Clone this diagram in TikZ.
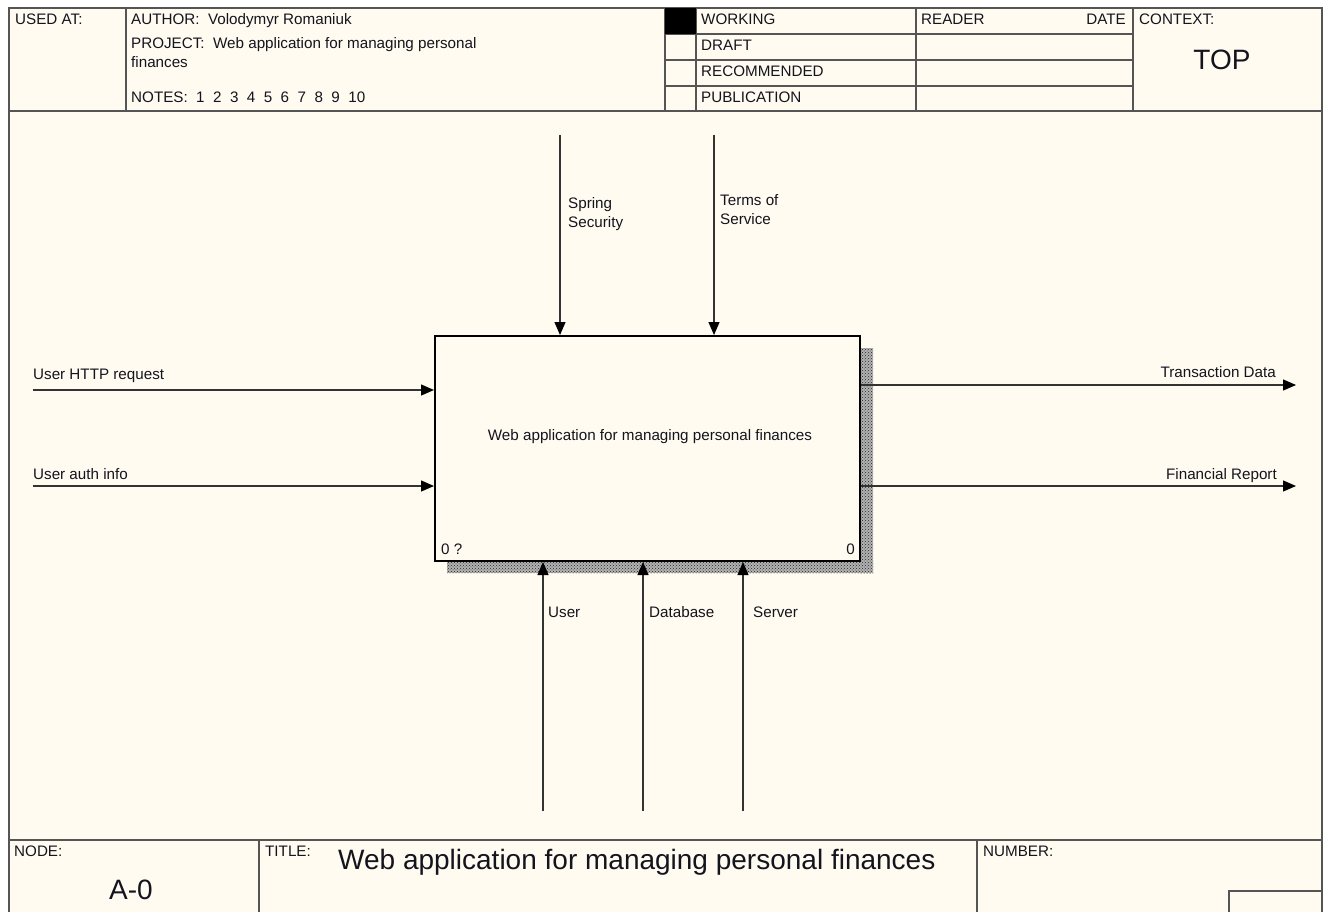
\documentclass[tikz,border=0pt]{standalone}
\usepackage{fontspec}
\setmainfont{Liberation Sans}
\usetikzlibrary{arrows.meta,patterns}
\definecolor{paper}{RGB}{255,251,240}
\definecolor{ink}{RGB}{20,20,30}
\definecolor{rule}{RGB}{85,85,85}
\begin{document}
\begin{tikzpicture}[x=1pt,y=-1pt,
  lbl/.style={inner sep=0pt,anchor=base west,text=ink,font=\fontsize{15.2}{19.5}\selectfont},
  big/.style={inner sep=0pt,anchor=base,text=ink,font=\fontsize{28}{32}\selectfont},
  frameline/.style={draw=rule,line width=1.4pt},
  flow/.style={draw=black!80,line width=1.3pt,-{Triangle[length=13pt,width=11pt,color=black]}},
  shadow/.style={fill=black!30,postaction={pattern=crosshatch dots,pattern color=black!85}},
]
\useasboundingbox (0,0) rectangle (1325,912);
\fill[white] (0,0) rectangle (1325,912);
\fill[paper] (9,8) rectangle (1322,920);

% outer frame
\draw[frameline] (9,920) -- (9,8) -- (1322,8) -- (1322,920);

% header block
\draw[frameline] (9,111) -- (1322,111);
\foreach \x in {126,665,696,916,1133} \draw[frameline] (\x,8) -- (\x,111);
\foreach \y in {34,60,86} \draw[frameline] (665,\y) -- (1133,\y);
\fill[black] (665,8) rectangle (696,34);

\node[lbl] (usedat) at (15,25) {USED AT:};
\node[lbl] (author) at (131,25) {AUTHOR:\ \ Volodymyr Romaniuk};
\node[lbl,anchor=north west,align=left] (project) at (131,37) {PROJECT:\ \ Web application for managing personal\\finances};
\node[lbl] (notes) at (131,103) {NOTES:\ \ 1\ \ 2\ \ 3\ \ 4\ \ 5\ \ 6\ \ 7\ \ 8\ \ 9\ \ 10};
\node[lbl] (working) at (701,25) {WORKING};
\node[lbl] (draft) at (701,51) {DRAFT};
\node[lbl] (recommended) at (701,77) {RECOMMENDED};
\node[lbl] (publication) at (701,103) {PUBLICATION};
\node[lbl] (reader) at (921,25) {READER};
\node[lbl,anchor=base east] (date) at (1126,25) {DATE};
\node[lbl] (context) at (1139,25) {CONTEXT:};
\node[big] (top) at (1222,70) {TOP};

% footer block
\draw[frameline] (9,840) -- (1322,840);
\draw[frameline] (259,840) -- (259,920);
\draw[frameline] (977,840) -- (977,920);
\draw[frameline] (1229,920) -- (1229,891) -- (1322,891);
\node[lbl] (nodelbl) at (14,856) {NODE:};
\node[lbl] (titlelbl) at (265,856) {TITLE:};
\node[lbl] (numberlbl) at (983,856) {NUMBER:};
\node[big] (nodeid) at (131,899) {A-0};
\node[big,anchor=base west] (title) at (338,869) {Web application for managing personal finances};

% activity box with its shadow
\fill[shadow] (860,348) rectangle (873,573);
\fill[shadow] (447,561) rectangle (873,573);
\node[draw=black,line width=2pt,fill=paper,minimum width=425pt,minimum height=225pt,inner sep=0pt] (box) at (647.5,448.5) {};
\node[lbl,anchor=center] (boxtxt) at (650,437) {Web application for managing personal finances};
\node[lbl] (boxnum) at (441,554) {0 ?};
\node[lbl,anchor=base east] (boxcost) at (855,554) {0};

% controls
\coordinate (c1) at (560,135);
\coordinate (c2) at (714,135);
\draw[flow] (c1) -- (c1 |- box.north);
\draw[flow] (c2) -- (c2 |- box.north);
\node[lbl,anchor=north west,align=left] (c1lbl) at (568,197) {Spring\\Security};
\node[lbl,anchor=north west,align=left] (c2lbl) at (720,194) {Terms of\\Service};

% inputs
\coordinate (i1) at (33,390);
\coordinate (i2) at (33,486);
\draw[flow] (i1) -- (i1 -| box.west);
\draw[flow] (i2) -- (i2 -| box.west);
\node[lbl] (i1lbl) at (33,379) {User HTTP request};
\node[lbl] (i2lbl) at (33,479) {User auth info};

% outputs
\coordinate (o1) at (1296,385);
\coordinate (o2) at (1296,486);
\draw[flow] (o1 -| box.east) -- (o1);
\draw[flow] (o2 -| box.east) -- (o2);
\node[lbl,anchor=base east] (o1lbl) at (1276,377) {Transaction Data};
\node[lbl,anchor=base east] (o2lbl) at (1277,479) {Financial Report};

% mechanisms
\coordinate (m1) at (543,811);
\coordinate (m2) at (643,811);
\coordinate (m3) at (743,811);
\draw[flow] (m1) -- (m1 |- box.south);
\draw[flow] (m2) -- (m2 |- box.south);
\draw[flow] (m3) -- (m3 |- box.south);
\node[lbl] (m1lbl) at (548,617) {User};
\node[lbl] (m2lbl) at (649,617) {Database};
\node[lbl] (m3lbl) at (753,617) {Server};
\end{tikzpicture}
\end{document}
